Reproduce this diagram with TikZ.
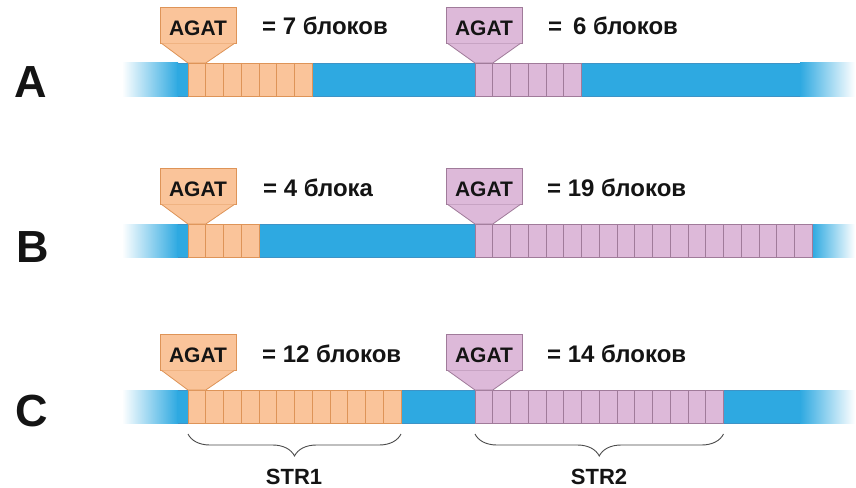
\documentclass[tikz,border=0pt]{standalone}
\usepackage{fontspec}
\setmainfont{Liberation Sans}
\usetikzlibrary{decorations.pathreplacing}
\definecolor{dnablue}{HTML}{2EA9E1}
\definecolor{dnaedge}{HTML}{3E93C6}
\definecolor{orfill}{HTML}{FAC49A}
\definecolor{oredge}{HTML}{DE9458}
\definecolor{pkfill}{HTML}{DDB9D9}
\definecolor{pkedge}{HTML}{A07B9A}
\definecolor{txt}{HTML}{141414}
\tikzset{
  agatbox/.style={draw=#1edge, fill=#1fill, line width=0.8pt, minimum width=76pt, minimum height=36pt,
    inner sep=0pt, text height=26pt, text depth=5pt, text=txt, font=\fontsize{21}{21}\selectfont\bfseries},
  cntlabel/.style={anchor=base west, inner sep=0pt, text=txt, font=\fontsize{24}{24}\selectfont\bfseries},
  rowlabel/.style={anchor=base west, inner sep=0pt, text=txt, font=\fontsize{45}{45}\selectfont\bfseries},
  strlabel/.style={anchor=base, inner sep=0pt, text=txt, font=\fontsize{22}{22}\selectfont\bfseries},
  bracestyle/.style={decorate, decoration={brace, mirror, amplitude=22pt}, draw=black!70, line width=0.9pt},
  blockline/.style={draw=#1edge, fill=#1fill, line width=0.8pt}
}
% #1 row id, #2 bar top, #3 orange count, #4 pink count, #5 right fade start
\newcommand\dnarow[5]{%
  \pgfmathsetmacro\bt{#2}\pgfmathsetmacro\bb{#2+33}%
  \shade[left color=white, right color=dnablue] (122,\bt) rectangle (178,\bb);
  \fill[dnablue] (177,\bt) rectangle (#5,\bb);
  \shade[left color=dnablue, right color=white] (#5,\bt) rectangle (855,\bb);
  \draw[dnaedge, line width=0.6pt] (178,\bt) -- (#5,\bt) (178,\bb) -- (#5,\bb);
  % orange blocks
  \pgfmathsetmacro\oend{188+#3*17.75}%
  \draw[blockline=or] (188,\bt) rectangle (\oend,\bb);
  \foreach \i in {1,...,\numexpr#3-1\relax} {\draw[oredge, line width=0.8pt] ({188+\i*17.75},\bt) -- ({188+\i*17.75},\bb);}
  \pgfmathsetmacro\pend{475+#4*17.75}%
  \draw[blockline=pk] (475,\bt) rectangle (\pend,\bb);
  \foreach \i in {1,...,\numexpr#4-1\relax} {\draw[pkedge, line width=0.8pt] ({475+\i*17.75},\bt) -- ({475+\i*17.75},\bb);}
  % boxes
  \node[agatbox=or] (agat#1o) at (198,\bt-38) {AGAT};
  \node[agatbox=pk] (agat#1p) at (484,\bt-38) {AGAT};
  \draw[blockline=or] (agat#1o.south west) ++(2,0) -- (188,\bt) -- (205.75,\bt) -- ([xshift=-2pt]agat#1o.south east);
  \draw[blockline=pk] (agat#1p.south west) ++(2,0) -- (475,\bt) -- (492.75,\bt) -- ([xshift=-2pt]agat#1p.south east);
}
\begin{document}
\begin{tikzpicture}[x=1pt,y=-1pt]
\useasboundingbox (0,0) rectangle (856,487);
\fill[white] (0,0) rectangle (856,487);

\dnarow{A}{63}{7}{6}{800}
\dnarow{B}{224}{4}{19}{812.25}
\dnarow{C}{390}{12}{14}{800}

\node[rowlabel] (rowA) at (14,97) {A};
\node[rowlabel] (rowB) at (16,262) {B};
\node[rowlabel] (rowC) at (15,426) {C};

\node[cntlabel] (cntAo) at (262,35) {= 7 блоков};
\node[cntlabel] (cntAp) at (548,35) {=\hspace{0.45em}6 блоков};
\node[cntlabel] (cntBo) at (263,196) {= 4 блока};
\node[cntlabel] (cntBp) at (547,196) {= 19 блоков};
\node[cntlabel] (cntCo) at (262,362) {= 12 блоков};
\node[cntlabel] (cntCp) at (547,362) {= 14 блоков};

\coordinate (b1l) at (188,434);
\coordinate (b1r) at (401,434);
\coordinate (b2l) at (475,434);
\coordinate (b2r) at (723.5,434);
\draw[bracestyle] (b1l) -- (b1r);
\draw[bracestyle] (b2l) -- (b2r);
\node[strlabel] (str1) at (294,484) {STR1};
\node[strlabel] (str2) at (599,484) {STR2};
\end{tikzpicture}
\end{document}
